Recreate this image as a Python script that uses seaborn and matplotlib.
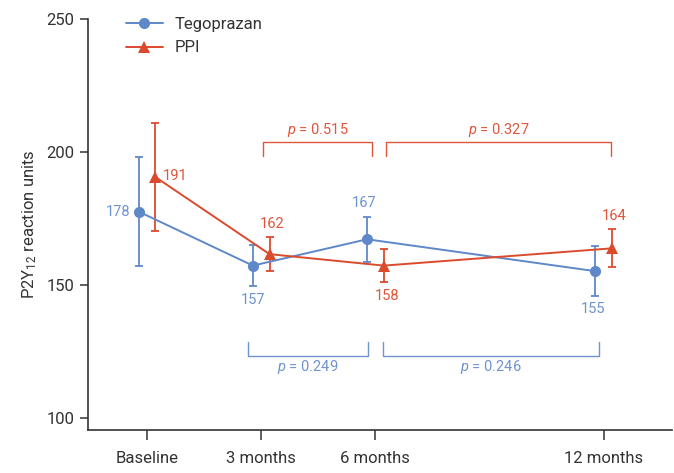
import matplotlib
matplotlib.use("Agg")
import matplotlib.pyplot as plt
import seaborn as sns
import pandas as pd

# data
months = [0, 3, 6, 12]
tick_labels = ["Baseline", "3 months", "6 months", "12 months"]
tego_mean = [177.6, 157.3, 167.2, 155.2]
tego_err = [20.5, 7.6, 8.5, 9.5]
ppi_mean = [190.6, 161.6, 157.3, 163.8]
ppi_err = [20.2, 6.3, 6.3, 7.1]
tego_labels = ["178", "157", "167", "155"]
ppi_labels = ["191", "162", "158", "164"]
ppi_brackets = [(3.05, 5.92, "0.515"), (6.27, 12.2, "0.327")]
tego_brackets = [(2.64, 5.80, "0.249"), (6.19, 11.86, "0.246")]

BLUE = "#5f88c8"
RED = "#dc4a2e"
BLUE_TXT = "#6f93cf"
RED_TXT = "#e0553b"
DARK = "#333333"

sns.set_style("ticks")
plt.rcParams["font.family"] = ["Roboto", "DejaVu Sans"]
plt.rcParams["mathtext.fontset"] = "custom"
plt.rcParams["mathtext.rm"] = "Roboto"
plt.rcParams["mathtext.it"] = "Roboto:italic"

shift = 0.22
df = pd.DataFrame({
    "month": [m - shift for m in months] + [m + shift for m in months],
    "value": tego_mean + ppi_mean,
    "group": ["Tegoprazan"] * 4 + ["PPI"] * 4,
})

fig = plt.figure(figsize=(6.74, 4.73), dpi=100)
ax = fig.add_axes([0.1306, 0.0909, 0.8664, 0.8689])

sns.lineplot(data=df, x="month", y="value", hue="group", style="group",
             palette={"Tegoprazan": BLUE, "PPI": RED},
             markers={"Tegoprazan": "o", "PPI": "^"}, dashes=False,
             markersize=8, markeredgewidth=0, linewidth=1.4, ax=ax, zorder=3)

tx = [m - shift for m in months]
px = [m + shift for m in months]
ax.errorbar(tx, tego_mean, yerr=tego_err, fmt="none", ecolor=BLUE,
            elinewidth=1.3, capsize=3.2, capthick=1.3, zorder=2)
ax.errorbar(px, ppi_mean, yerr=ppi_err, fmt="none", ecolor=RED,
            elinewidth=1.3, capsize=3.2, capthick=1.3, zorder=2)

# value labels (offsets in points)
tego_off = [(-6, 0, "right", "center"), (0, -24.5, "center", "center"),
            (-2, 26, "center", "center"), (-1.5, -27.5, "center", "center")]
ppi_off = [(5, 0.5, "left", "center"), (2, 21.5, "center", "center"),
           (2.5, -22, "center", "center"), (1.5, 23.5, "center", "center")]
for x, y, s, (dx, dy, ha, va) in zip(tx, tego_mean, tego_labels, tego_off):
    ax.annotate(s, (x, y), xytext=(dx, dy), textcoords="offset points",
                ha=ha, va=va, color=BLUE_TXT, fontsize=10.5)
for x, y, s, (dx, dy, ha, va) in zip(px, ppi_mean, ppi_labels, ppi_off):
    ax.annotate(s, (x, y), xytext=(dx, dy), textcoords="offset points",
                ha=ha, va=va, color=RED_TXT, fontsize=10.5)

# p-value brackets
for x0, x1, p in ppi_brackets:
    ax.plot([x0, x0, x1, x1], [198.6, 203.9, 203.9, 198.6], color=RED_TXT, lw=1.0)
    ax.text((x0 + x1) / 2, 208.4, f"$\\it{{p}}$ = {p}", color=RED_TXT,
            ha="center", va="center", fontsize=10.5)
for x0, x1, p in tego_brackets:
    ax.plot([x0, x0, x1, x1], [128.7, 123.4, 123.4, 128.7], color=BLUE_TXT, lw=1.0)
    ax.text((x0 + x1) / 2, 119.2, f"$\\it{{p}}$ = {p}", color=BLUE_TXT,
            ha="center", va="center", fontsize=10.5)

ax.set_xlim(-1.55, 13.79)
ax.set_ylim(95.5, 250)
ax.set_xticks(months)
ax.set_xticklabels(tick_labels)
ax.set_yticks([100, 150, 200, 250])
ax.set_xlabel("")
ax.set_ylabel("P2Y$_{12}$ reaction units", fontsize=12, color=DARK, labelpad=5)
ax.tick_params(axis="y", length=6, width=1.1, colors=DARK, labelsize=12, pad=4)
ax.tick_params(axis="x", length=7, width=1.1, colors=DARK, labelsize=12, pad=8)
sns.despine(ax=ax)
for sp in ["left", "bottom"]:
    ax.spines[sp].set_color(DARK)
    ax.spines[sp].set_linewidth(1.2)

leg = ax.legend(loc="upper left", bbox_to_anchor=(0.051, 1.025), frameon=False,
                fontsize=12, handlelength=2.2, labelspacing=0.5, borderpad=0,
                handletextpad=0.7)
for t in leg.get_texts():
    t.set_color(DARK)

fig.savefig("out.png", dpi=100)
